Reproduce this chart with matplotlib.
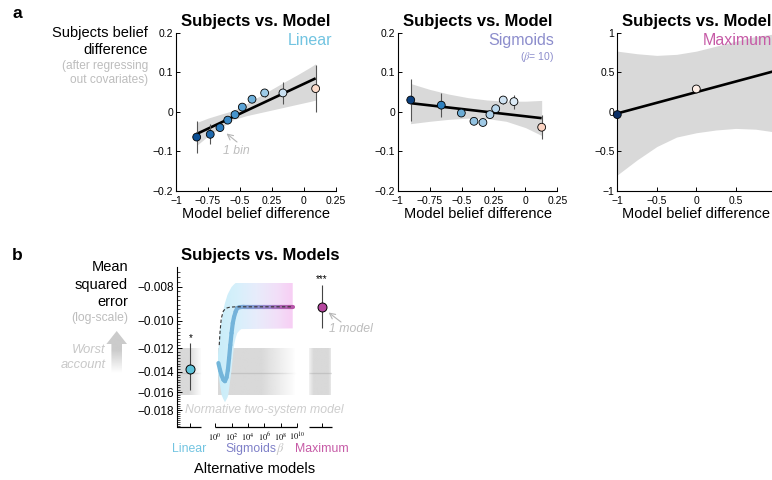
import numpy as np
import matplotlib
matplotlib.use("Agg")
import matplotlib.pyplot as plt
from matplotlib.collections import LineCollection
from matplotlib.colors import LinearSegmentedColormap, to_rgb, to_rgba
from matplotlib.patches import Polygon
from matplotlib.transforms import blended_transform_factory

plt.rcParams['font.family'] = ['Liberation Sans', 'DejaVu Sans']
plt.rcParams['mathtext.fontset'] = 'stix'

# ---------------- data: panel a (Linear) ----------------
lin_x = [-0.838, -0.732, -0.656, -0.595, -0.538, -0.481, -0.405, -0.306, -0.163, 0.093]
lin_y = [-0.064, -0.057, -0.040, -0.021, -0.007, 0.012, 0.032, 0.048, 0.048, 0.059]
lin_err = [0.040, 0.025, 0.008, 0.007, 0.007, 0.007, 0.008, 0.010, 0.027, 0.059]
lin_fit_x = [-0.838, 0.093]
lin_fit_y = [-0.056, 0.085]
lin_band_x = [-0.838, -0.75, -0.65, -0.55, -0.45, -0.35, -0.25, -0.15, -0.05, 0.05, 0.093]
lin_band_lo = [-0.085, -0.0617, -0.0406, -0.0194, -0.0099, -0.0026, 0.0046, 0.0119, 0.0192, 0.0264, 0.030]
lin_band_hi = [-0.027, -0.016, -0.006, 0.0035, 0.0205, 0.039, 0.0575, 0.076, 0.094, 0.113, 0.122]

# ---------------- data: panel a (Sigmoids) ----------------
sig_x = [-0.898, -0.659, -0.502, -0.403, -0.333, -0.278, -0.233, -0.174, -0.090, 0.127]
sig_y = [0.030, 0.017, -0.003, -0.024, -0.027, -0.007, 0.008, 0.030, 0.026, -0.039]
sig_err = [0.054, 0.030, 0.007, 0.007, 0.007, 0.007, 0.007, 0.010, 0.018, 0.031]
sig_fit_x = [-0.898, 0.127]
sig_fit_y = [0.022, -0.016]
sig_band_x = [-0.9, -0.75, -0.6, -0.45, -0.3, -0.15, 0.0, 0.127]
sig_band_lo = [-0.030, -0.024, -0.019, -0.016, -0.017, -0.024, -0.040, -0.060]
sig_band_hi = [0.072, 0.057, 0.045, 0.036, 0.030, 0.027, 0.027, 0.029]

# ---------------- data: panel a (Maximum) ----------------
max_x = [-1.0, 0.0]
max_y = [-0.035, 0.29]
max_fit_x = [-1.0, 1.0]
max_fit_y = [-0.02, 0.52]
max_band_x = [-1.0, -0.75, -0.5, -0.25, 0.0, 0.25, 0.5, 0.75, 1.0]
max_band_lo = [-0.80, -0.61, -0.44, -0.32, -0.265, -0.23, -0.21, -0.22, -0.256]
max_band_hi = [0.77, 0.737, 0.716, 0.729, 0.77, 0.833, 0.897, 0.956, 0.99]

# ---------------- data: panel b ----------------
b_yticks = [-0.008, -0.010, -0.012, -0.014, -0.016, -0.018]
b_yticklabels = ['\u22120.008', '\u22120.010', '\u22120.012', '\u22120.014', '\u22120.016', '\u22120.018']
b_beta_ticks = [0, 2, 4, 6, 8, 10]
b_beta_labels = [r'$10^{0}$', r'$10^{2}$', r'$10^{4}$', r'$10^{6}$', r'$10^{8}$', r'$10^{10}$']

linear_mse, linear_lo, linear_hi = -0.0137, -0.0158, -0.0116
maximum_mse, maximum_lo, maximum_hi = -0.00913, -0.0105, -0.0079
norm_mse, norm_lo, norm_hi = -0.0141, -0.0163, -0.0119

sigm_logbeta = [0.4, 0.6, 0.8, 1.0, 1.2, 1.4, 1.55, 1.7, 1.85, 2.0, 2.15, 2.3, 2.5, 2.7,
                3.0, 3.5, 4.0, 5.0, 6.0, 7.0, 8.0, 9.0, 9.45]
sigm_mse = [-0.01321, -0.01384, -0.01435, -0.01473, -0.01488, -0.01450, -0.01384, -0.01279,
            -0.01174, -0.01085, -0.01016, -0.00977, -0.00942, -0.00920, -0.00915, -0.00913,
            -0.00913, -0.00913, -0.00913, -0.00913, -0.00913, -0.00913, -0.00913]
dash_logbeta = [0.5, 0.6, 0.75, 1.0, 1.3, 1.8, 2.5, 4.0, 6.0, 8.0, 9.45]
dash_mse = [-0.01174, -0.01076, -0.00985, -0.00939, -0.00922, -0.00915, -0.00913, -0.00913,
            -0.00913, -0.00913, -0.00913]
sband_x = [0.3, 0.6, 0.8, 1.0, 1.2, 1.5, 1.6, 2.0, 2.3, 2.5, 2.7, 3.0, 3.2, 9.45]
sband_hi = [-0.01296, -0.01063, -0.00996, -0.00933, -0.00891, -0.00845, -0.00835, -0.00802,
            -0.00788, -0.00781, -0.00779, -0.00779, -0.00779, -0.00779]
sband_lo = [-0.01384, -0.01527, -0.01631, -0.01673, -0.01708, -0.01657, -0.01631, -0.01384,
            -0.01174, -0.01121, -0.01085, -0.01065, -0.01057, -0.01052]

# ---------------- styles ----------------
lin_colors = ['#0b4f94', '#1f69ad', '#2b7bbd', '#3a89c6', '#4795cd', '#5aa3d6', '#6fb1dc',
              '#9ccae7', '#c9e0f1', '#fcdccb']
sig_colors = ['#0a3f7e', '#2f80be', '#6aabd4', '#93c3e2', '#9fc9e5', '#aed1ea', '#bbd9ee',
              '#cfe3f3', '#ddebf6', '#fbd3c2']
max_colors = ['#0b2f66', '#fdeee6']
BAND = '#d9d9d9'
GRAYTXT = '#bdbdbd'

W, H = 772, 480
fig = plt.figure(figsize=(W / 100, H / 100), dpi=100)


def box(l, t, r, b):
    return [l / W, 1 - b / H, (r - l) / W, (b - t) / H]


def style_a(ax):
    for s in ['top', 'right']:
        ax.spines[s].set_visible(False)
    for s in ['left', 'bottom']:
        ax.spines[s].set_linewidth(0.8)
    ax.tick_params(direction='in', length=3, width=0.7, labelsize=7.5, pad=2)
    ax.tick_params(axis='x', pad=3.5)
    ax.set_xlabel('Model belief difference', fontsize=10.5, labelpad=1)
    ax.set_title('Subjects vs. Model', fontsize=12, fontweight='bold', pad=5)


def panel_a(ax, xs, ys, errs, cols, fx, fy, bx, blo, bhi, xlim, ylim, xt, xtl, yt, ytl):
    ax.fill_between(bx, blo, bhi, color=BAND, lw=0, zorder=1)
    ax.plot(fx, fy, color='k', lw=1.9, zorder=2, solid_capstyle='butt')
    if errs is not None:
        ax.errorbar(xs, ys, yerr=errs, fmt='none', ecolor='#555555', elinewidth=0.8, zorder=3)
    ax.scatter(xs, ys, s=32, c=cols, edgecolors='k', linewidths=0.6, zorder=4, clip_on=False)
    ax.set_xlim(*xlim)
    ax.set_ylim(*ylim)
    ax.set_xticks(xt)
    ax.set_xticklabels(xtl)
    ax.set_yticks(yt)
    ax.set_yticklabels(ytl)
    style_a(ax)


xtl_a = ['\u22121', '\u22120.75', '\u22120.5', '0.25', '0', '0.25']
xt_a = [-1, -0.75, -0.5, -0.25, 0, 0.25]
yt_a = [-0.2, -0.1, 0, 0.1, 0.2]
ytl_a = ['\u22120.2', '\u22120.1', '0', '0.1', '0.2']

ax1 = fig.add_axes(box(176, 33, 335.7, 190.7))
panel_a(ax1, lin_x, lin_y, lin_err, lin_colors, lin_fit_x, lin_fit_y, lin_band_x, lin_band_lo,
        lin_band_hi, (-1, 0.25), (-0.2, 0.2), xt_a, xtl_a, yt_a, ytl_a)
ax1.text(0.977, 0.955, 'Linear', transform=ax1.transAxes, ha='right', va='center',
         fontsize=11.5, color='#72c4e1')

ax2 = fig.add_axes(box(397.7, 33, 557.4, 190.7))
panel_a(ax2, sig_x, sig_y, sig_err, sig_colors, sig_fit_x, sig_fit_y, sig_band_x, sig_band_lo,
        sig_band_hi, (-1, 0.25), (-0.2, 0.2), xt_a, xtl_a, yt_a, ytl_a)
ax2.text(0.977, 0.955, 'Sigmoids', transform=ax2.transAxes, ha='right', va='center',
         fontsize=11.5, color='#8c8dcc')
ax2.text(0.977, 0.846, r'($\beta$= 10)', transform=ax2.transAxes, ha='right', va='center',
         fontsize=7.5, color='#8c8dcc')

ax3 = fig.add_axes(box(617.3, 33, 775.3, 190.7))
panel_a(ax3, max_x, max_y, None, max_colors, max_fit_x, max_fit_y, max_band_x, max_band_lo,
        max_band_hi, (-1, 1), (-1, 1), [-1, -0.5, 0, 0.5, 1],
        ['\u22121', '\u22120.5', '0', '0.5', ''], [-1, -0.5, 0, 0.5, 1],
        ['\u22121', '\u22120.5', '0', '0.5', '1'])
ax3.text(0.977, 0.955, 'Maximum', transform=ax3.transAxes, ha='right', va='center',
         fontsize=11.5, color='#c65aa6')

# ---------------- panel b ----------------
def fwd(v):
    v = np.asarray(v, dtype=float)
    return -np.log(np.clip(-v, 1e-9, None))


def inv(u):
    return -np.exp(-np.asarray(u, dtype=float))


axb = fig.add_axes(box(176.7, 267, 331.7, 427))
axb.set_yscale('function', functions=(fwd, inv))
XL = (-4.68, 14.2)
YL = (-0.0201, -0.00703)


def hgrad(ax, x0, x1, y0, y1, color, ax_pts, a_pts, z):
    xs = np.linspace(x0, x1, 256)
    a = np.interp(xs, ax_pts, a_pts)
    img = np.zeros((1, 256, 4))
    img[..., :3] = to_rgb(color)
    img[..., 3] = a
    ax.imshow(img, extent=[x0, x1, y0, y1], aspect='auto', interpolation='bilinear',
              origin='lower', zorder=z)
    # center line
    pts = np.column_stack([xs, np.full_like(xs, norm_mse)])
    segs = np.stack([pts[:-1], pts[1:]], axis=1)
    cols = np.array([to_rgba('#bdbdbd', aa) for aa in (a[:-1] + a[1:]) / 2])
    ax.add_collection(LineCollection(segs, colors=cols, linewidths=0.9, zorder=z + 0.1))


hgrad(axb, XL[0], -1.7, norm_lo, norm_hi, BAND, [XL[0], -3.3, -1.7], [1, 1, 0], 1)
hgrad(axb, 0.3, 9.8, norm_lo, norm_hi, BAND, [0.3, 5.5, 9.8], [1, 1, 0], 1)
hgrad(axb, 11.4, 14.2, norm_lo, norm_hi, BAND, [11.4, 11.9, 13.7, 14.2], [0.4, 1, 1, 0.4], 1)

# sigmoid confidence band with colour gradient
sbx = np.asarray(sband_x)
verts = np.column_stack([np.r_[sbx, sbx[::-1]], np.r_[sband_hi, np.asarray(sband_lo)[::-1]]])
poly = Polygon(verts, closed=True, facecolor='none', edgecolor='none')
axb.add_patch(poly)
bcm = LinearSegmentedColormap.from_list('band', [(0, '#c9edf9'), (0.24, '#d6f0fb'),
                                                  (0.51, '#e8ecfb'), (0.78, '#f2dff8'),
                                                  (1.0, '#f8cdf4')])
grad = np.linspace(0, 1, 256)[None, :]
im = axb.imshow(grad, cmap=bcm, extent=[sbx[0], sbx[-1], min(sband_lo), max(sband_hi)],
                aspect='auto', interpolation='bilinear', origin='lower', zorder=2)
im.set_clip_path(poly)

# thick sigmoid curve
ccm = LinearSegmentedColormap.from_list('curve', [(0, '#72b6da'), (0.25, '#74b4da'),
                                                   (0.42, '#7e9fd2'), (0.69, '#9a86cc'),
                                                   (1.0, '#b852a6')])
p = np.column_stack([sigm_logbeta, sigm_mse])
segs = np.stack([p[:-1], p[1:]], axis=1)
mid = (p[:-1, 0] + p[1:, 0]) / 2
lc = LineCollection(segs, colors=ccm(np.clip(mid / 9.45, 0, 1)), linewidths=3.0,
                    capstyle='round', joinstyle='round', zorder=3)
axb.add_collection(lc)
axb.plot(dash_logbeta, dash_mse, color='#333333', lw=0.8, dashes=(3, 2), zorder=4)

# points
for xv, m, lo, hi, col, star in [(-3, linear_mse, linear_lo, linear_hi, '#5ec3da', '*'),
                                 (13, maximum_mse, maximum_lo, maximum_hi, '#b5479f', '***')]:
    axb.vlines(xv, lo, hi, color='#444444', lw=0.8, zorder=5)
    axb.scatter([xv], [m], s=42, c=col, edgecolors='k', linewidths=0.7, zorder=6)
    axb.annotate(star, (xv, hi), xytext=(0, 0.5), textcoords='offset points', ha='center',
                 va='bottom', fontsize=7)

axb.set_xlim(*XL)
axb.set_ylim(*YL)
axb.set_yticks(b_yticks)
axb.set_yticklabels(b_yticklabels)
axb.set_yticks(np.arange(-0.0200, -0.0070, 0.00025), minor=True)
axb.set_xticks([-3] + b_beta_ticks + [13])
axb.set_xticklabels([''] + b_beta_labels + [''])
axb.tick_params(axis='y', which='major', direction='in', length=3.5, width=0.7, labelsize=8.5, pad=2)
axb.tick_params(axis='y', which='minor', direction='in', length=1.8, width=0.5)
axb.tick_params(axis='x', direction='in', length=3, width=0.7, labelsize=6, pad=3)
for s in ['top', 'right', 'bottom']:
    axb.spines[s].set_visible(False)
axb.spines['left'].set_linewidth(0.8)
bt = blended_transform_factory(axb.transData, axb.transAxes)
for a, b in [(XL[0], -1.75), (0, 10), (11.45, 14.2)]:
    axb.plot([a, b], [0, 0], transform=bt, color='k', lw=0.9, clip_on=False,
             solid_capstyle='butt')
axb.set_title('Subjects vs. Models', fontsize=12, fontweight='bold', pad=5, x=0.537)

# ---------------- overlay annotations (pixel coordinates) ----------------
ov = fig.add_axes([0, 0, 1, 1])
ov.set_xlim(0, W)
ov.set_ylim(H, 0)
ov.axis('off')

ov.text(17, 14, 'a', fontsize=12.5, fontweight='bold', ha='center', va='center')
ov.text(17, 255, 'b', fontsize=12.5, fontweight='bold', ha='center', va='center')

ov.text(148, 33, 'Subjects belief', ha='right', va='center', fontsize=10.5)
ov.text(148, 50, 'difference', ha='right', va='center', fontsize=10.5)
ov.text(148, 65.5, '(after regressing', ha='right', va='center', fontsize=8.6, color=GRAYTXT)
ov.text(148, 80.5, 'out covariates)', ha='right', va='center', fontsize=8.6, color=GRAYTXT)

ov.text(128, 266.7, 'Mean', ha='right', va='center', fontsize=10.5)
ov.text(128, 284.5, 'squared', ha='right', va='center', fontsize=10.5)
ov.text(128, 301.5, 'error', ha='right', va='center', fontsize=10.5)
ov.text(128, 318.5, '(log-scale)', ha='right', va='center', fontsize=8.7, color=GRAYTXT)

ov.text(106, 350, 'Worst', ha='right', va='center', fontsize=9.3, color='#c8c8c8', style='italic')
ov.text(106, 365, 'account', ha='right', va='center', fontsize=9.3, color='#c8c8c8', style='italic')
arrow = Polygon([(116.7, 331), (127, 344), (122, 344), (122, 373), (111.4, 373), (111.4, 344),
                 (106.4, 344)], closed=True, facecolor='none', edgecolor='none')
ov.add_patch(arrow)
acol = np.zeros((64, 1, 4))
acol[..., :3] = to_rgb('#cbcbcb')
acol[:, 0, 3] = np.interp(np.linspace(0, 1, 64), [0, 0.45, 1], [1, 1, 0])
aim = ov.imshow(acol, extent=[106, 128, 373, 331], aspect='auto', origin='upper',
                interpolation='bilinear')
aim.set_clip_path(arrow)
ov.set_xlim(0, W)
ov.set_ylim(H, 0)

ov.text(236, 151, '1 bin', ha='center', va='center', fontsize=8.8, color=GRAYTXT, style='italic')
ov.annotate('', xy=(226.5, 133.5), xytext=(237, 142),
            arrowprops=dict(arrowstyle='->', color='#b5b5b5', lw=0.8, shrinkA=0, shrinkB=0))
ov.text(351, 329, '1 model', ha='center', va='center', fontsize=8.8, color=GRAYTXT, style='italic')
ov.annotate('', xy=(328.5, 312.5), xytext=(341, 322),
            arrowprops=dict(arrowstyle='->', color='#b5b5b5', lw=0.8, shrinkA=0, shrinkB=0))

ov.text(264, 410, 'Normative two-system model', ha='center', va='center', fontsize=8.8,
        color='#cdcdcd', style='italic')

ov.text(189, 449.3, 'Linear', ha='center', va='center', fontsize=8.8, color='#72c4e1')
ov.text(225, 449.3, 'Sigmoids', ha='left', va='center', fontsize=8.8, color='#7f80c8')
ov.text(275.5, 449.3, r'$\beta$', ha='left', va='center', fontsize=9, color='#c4c4c4')
ov.text(321.7, 449.3, 'Maximum', ha='center', va='center', fontsize=8.8, color='#c65aa6')
ov.text(255, 469.3, 'Alternative models', ha='center', va='center', fontsize=10.5)

fig.savefig('out.png', dpi=100)
